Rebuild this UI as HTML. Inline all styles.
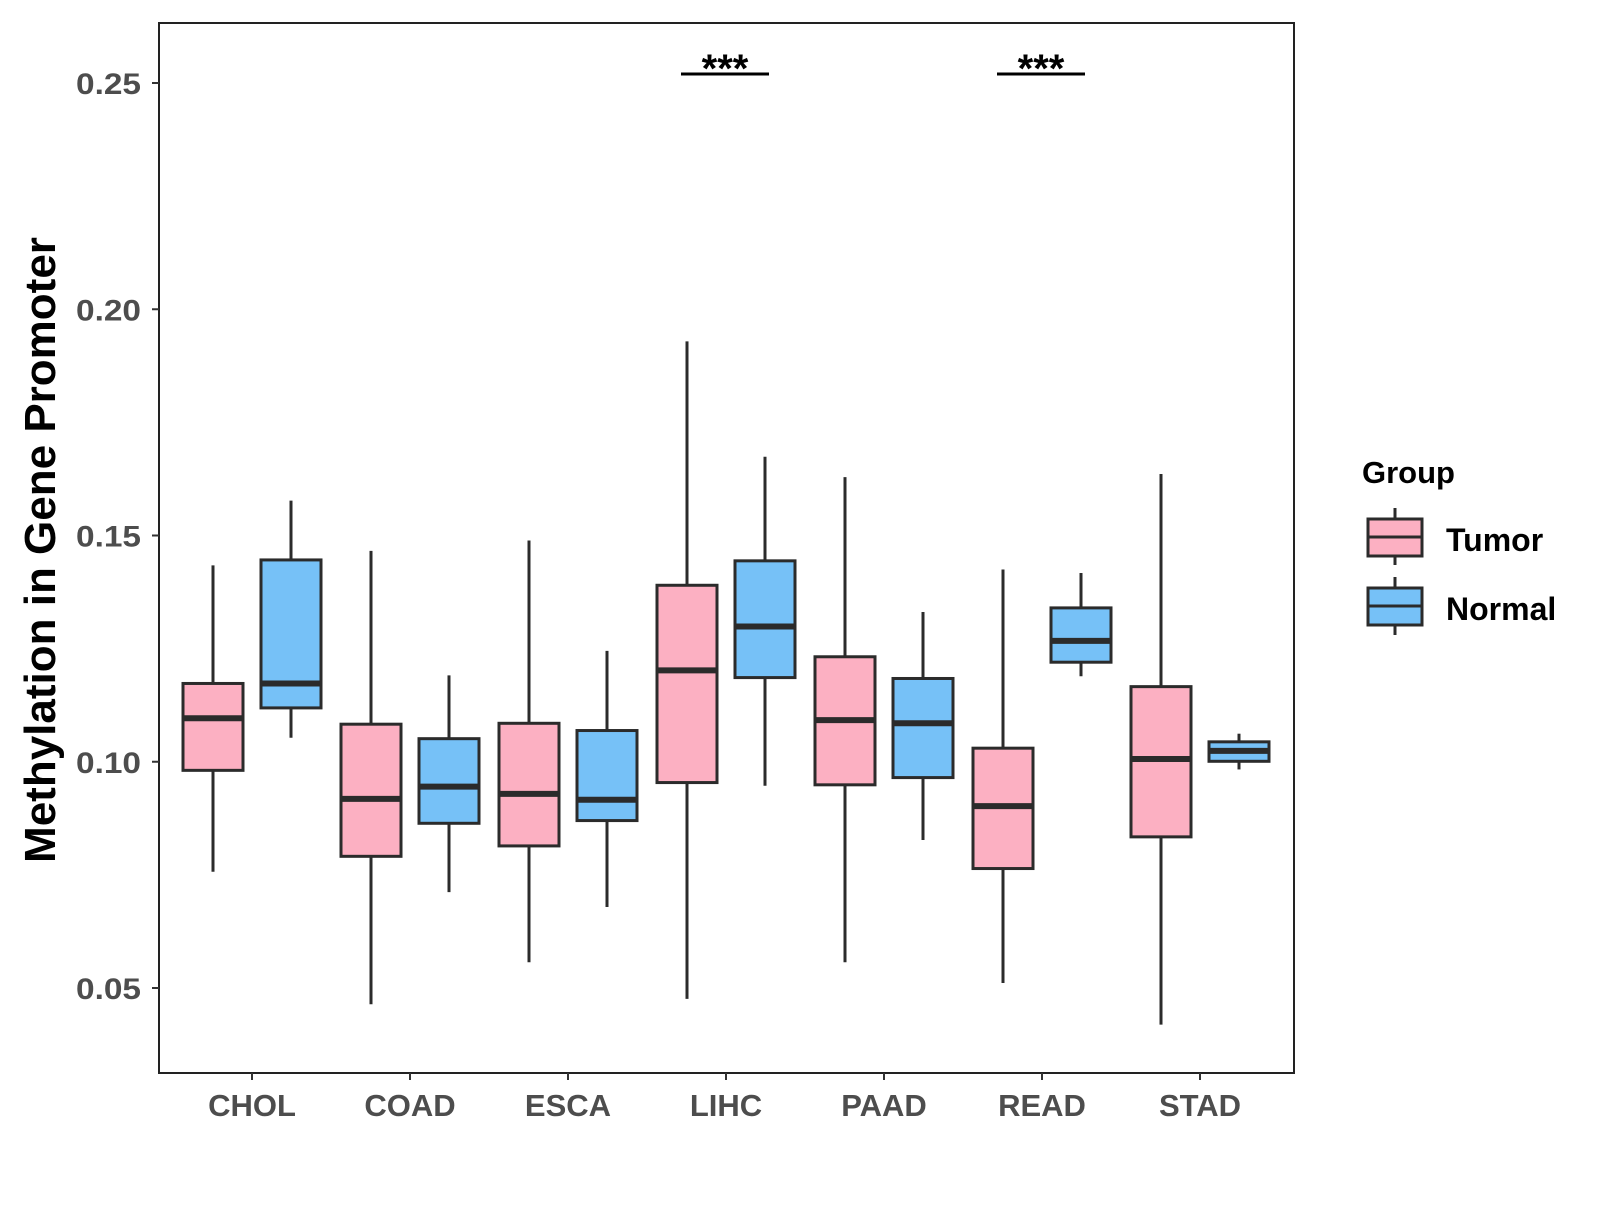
<!DOCTYPE html>
<html><head><meta charset="utf-8"><style>
html,body{margin:0;padding:0;background:#fff;}
svg text{font-family:"Liberation Sans",Arial,sans-serif;font-weight:bold;}
</style></head><body>
<svg id="chart" width="1600" height="1200" xmlns="http://www.w3.org/2000/svg">
<rect x="159" y="23" width="1135" height="1050" fill="#fff" stroke="#222" stroke-width="2"/>
<g id="marks"></g>
<text transform="translate(55,550) rotate(-90)" text-anchor="middle" font-size="44" fill="#000">Methylation in Gene Promoter</text>
<g>
<text x="1362" y="483" font-size="31" fill="#000">Group</text>
<line x1="1395" y1="508" x2="1395" y2="565" stroke="#2b2b2b" stroke-width="3"/>
<rect x="1368" y="519" width="54" height="37" fill="#FCB0C2" stroke="#2b2b2b" stroke-width="3"/>
<line x1="1368" y1="537" x2="1422" y2="537" stroke="#2b2b2b" stroke-width="3"/>
<text x="1446" y="551" font-size="32" fill="#000">Tumor</text>
<line x1="1395" y1="577" x2="1395" y2="635" stroke="#2b2b2b" stroke-width="3"/>
<rect x="1368" y="588" width="54" height="37" fill="#76C1F7" stroke="#2b2b2b" stroke-width="3"/>
<line x1="1368" y1="606" x2="1422" y2="606" stroke="#2b2b2b" stroke-width="3"/>
<text x="1446" y="620" font-size="32" fill="#000">Normal</text>
</g>
</svg>
<script>
const categories=["CHOL","COAD","ESCA","LIHC","PAAD","READ","STAD"];
// [whiskerLow, q1, median, q3, whiskerHigh]
const tumorStats=[
[0.0757,0.0981,0.1096,0.1173,0.1434],
[0.0464,0.0791,0.0918,0.1083,0.1466],
[0.0557,0.0814,0.0929,0.1085,0.1489],
[0.0476,0.0954,0.1202,0.1390,0.1929],
[0.0557,0.0949,0.1092,0.1232,0.1629],
[0.0511,0.0764,0.0902,0.1030,0.1425],
[0.0419,0.0834,0.1006,0.1166,0.1636]];
const normalStats=[
[0.1053,0.1119,0.1173,0.1446,0.1577],
[0.0712,0.0864,0.0945,0.1051,0.1191],
[0.0679,0.0870,0.0916,0.1069,0.1245],
[0.0947,0.1186,0.1299,0.1444,0.1674],
[0.0827,0.0965,0.1085,0.1184,0.1331],
[0.1189,0.1220,0.1267,0.1340,0.1417],
[0.0983,0.1001,0.1024,0.1044,0.1062]];
const yTicks=[0.05,0.10,0.15,0.20,0.25];
const yTickLabels=["0.05","0.10","0.15","0.20","0.25"];
const sigCategories=["LIHC","READ"];
const sigLevel=0.252;
const sigLabels=["***","***"];

const NS="http://www.w3.org/2000/svg";
const g=document.getElementById('marks');
function y(v){return 988-(v-0.05)*(905/0.2);}
function x(c){return 252+categories.indexOf(c)*158;}
function mk(tag,attrs){const e=document.createElementNS(NS,tag);for(const k in attrs)e.setAttribute(k,attrs[k]);g.appendChild(e);return e;}
yTicks.forEach((t,i)=>{
  const l=mk('line',{x1:152,x2:159,y1:y(t),y2:y(t),stroke:'#333','stroke-width':2});
  
  
  const tx=mk('text',{x:141,y:y(t)+11,'text-anchor':'end','font-size':30,fill:'#4d4d4d',textLength:65,lengthAdjust:'spacingAndGlyphs'});
  tx.textContent=yTickLabels[i];
  
  
});
categories.forEach(c=>{
  const l=mk('line',{x1:x(c),x2:x(c),y1:1073,y2:1080,stroke:'#333','stroke-width':2});
  
  
  const tx=mk('text',{x:x(c),y:1116,'text-anchor':'middle','font-size':31,fill:'#4d4d4d'});
  tx.textContent=c;
  
  
});
function box(cx,s,fill,name){
  const w=60;
  const wl=mk('line',{x1:cx,x2:cx,y1:y(s[0]),y2:y(s[4]),stroke:'#2b2b2b','stroke-width':3});
  
  
  const r=mk('rect',{x:cx-w/2,y:y(s[3]),width:w,height:y(s[1])-y(s[3]),fill:fill,stroke:'#2b2b2b','stroke-width':3});
  
  
  const m=mk('line',{x1:cx-w/2,x2:cx+w/2,y1:y(s[2]),y2:y(s[2]),stroke:'#2b2b2b','stroke-width':6});
  
  
}
categories.forEach((c,i)=>{
  box(x(c)-39,tumorStats[i],'#FCB0C2',c.toLowerCase()+'-tumor');
  box(x(c)+39,normalStats[i],'#76C1F7',c.toLowerCase()+'-normal');
});
sigCategories.forEach((c,i)=>{
  const l=mk('line',{x1:x(c)-45,x2:x(c)+43,y1:y(sigLevel),y2:y(sigLevel),stroke:'#000','stroke-width':3});
  
  
  const t=mk('text',{x:x(c)-1,y:y(sigLevel)+8,'text-anchor':'middle','font-size':40,fill:'#000'});
  t.textContent=sigLabels[i];
  
  
});
</script>
</body></html>
